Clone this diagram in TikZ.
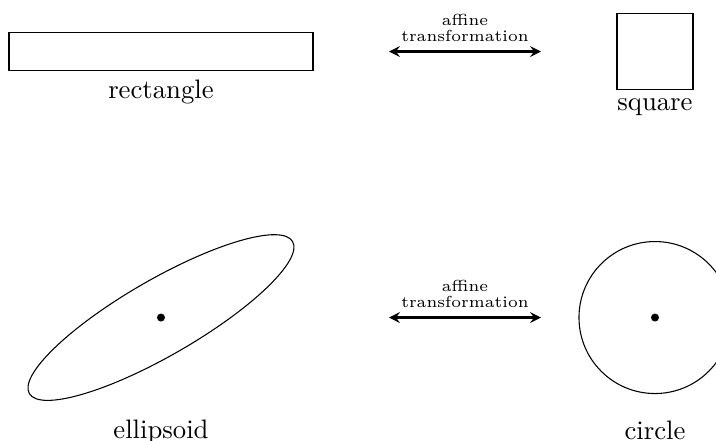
\documentclass[tikz,border=0pt]{standalone}
\usetikzlibrary{positioning,arrows}

\tikzset{
  figure/.style={draw,thin,inner sep=0pt,outer sep=0pt},
  trans/.style={<->,>=stealth,thick},
  translabel/.style={above,font=\fontsize{6pt}{6pt}\selectfont,align=center},
}

\begin{document}
\begin{tikzpicture}
      \useasboundingbox (-2.118,-5.112) rectangle (7.303,0.678);
      % top row
      \node[figure,minimum width=4cm,minimum height=0.5cm] (rect) at (0,0) {};
      \node[figure,minimum width=1cm,minimum height=1cm] (sq) at (6.5,0) {};
      \node[below=0pt of rect] (rectlabel) {rectangle};
      \node[below=0pt of sq] (sqlabel) {square};
      % bottom row
      \coordinate (ell) at (0,-3.5);
      \node[figure,circle,minimum size=2cm] (circ) at (6.5,-3.5) {};
      \draw[thin,rotate around={30:(ell)}] (ell) ellipse (2 and 0.5);
      \fill (ell) circle (1.5pt);
      \fill (circ.center) circle (1.5pt);
      \node (elllabel) at (0,-5) {ellipsoid};
      \node (circlabel) at (6.5,-4.98) {circle};
      % arrows
      \coordinate (t1) at (3,0);
      \coordinate (t2) at (5,0);
      \coordinate (b1) at (3,-3.5);
      \coordinate (b2) at (5,-3.5);
      \begin{scope}[trans]
        \draw (t1) to node[translabel] {affine\\transformation} (t2);
        \draw (b1) to node[translabel] {affine\\transformation} (b2);
      \end{scope}
    \end{tikzpicture}
\end{document}
